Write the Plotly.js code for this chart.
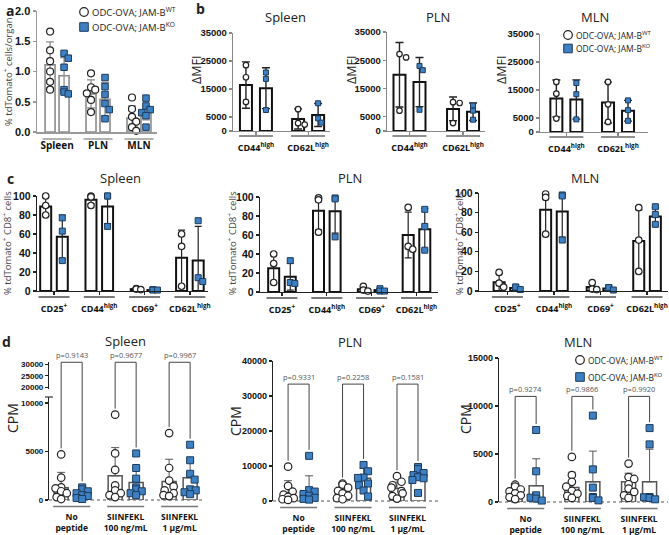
<!DOCTYPE html>
<html>
<head>
<meta charset="utf-8">
<script src="https://cdn.plot.ly/plotly-3.0.1.min.js"></script>
<style>
body { margin: 0; background: #fff; }
#fig { width: 669px; height: 535px; }
</style>
</head>
<body>
<div id="fig"></div>
<script>
// ---------- data ----------
// a: % tdTomato+ cells / organ
var organsA = ['Spleen', 'PLN', 'MLN'];
var aMeanWT = [1.11, 0.63, 0.23];
var aSdWT = [0.38, 0.23, 0.20];
var aMeanKO = [0.93, 0.54, 0.32];
var aSdKO = [0.30, 0.28, 0.12];
var aPtsWT = [[1.66, 1.35, 1.17, 1.00, 0.83, 0.70], [0.97, 0.74, 0.70, 0.64, 0.53, 0.33], [0.57, 0.38, 0.25, 0.17, 0.08, 0.02]];
var aPtsKO = [[1.30, 1.22, 1.07, 0.70, 0.66, 0.63], [0.90, 0.75, 0.62, 0.47, 0.37, 0.22], [0.56, 0.43, 0.37, 0.32, 0.27, 0.08]];

// b: delta MFI
var markersB = ['CD44<sup>high</sup>', 'CD62L<sup>high</sup>'];
var bSpleenMeanWT = [16400, 4300], bSpleenSdWT = [8300, 3600];
var bSpleenMeanKO = [15300, 5700], bSpleenSdKO = [7300, 4100];
var bSpleenPtsWT = [[23500, 19200, 10400], [7800, 2800, 2300]];
var bSpleenPtsKO = [[20900, 18600, 7500], [9900, 4500, 3000]];
var bPlnMeanWT = [19900, 7800], bPlnSdWT = [11400, 4200];
var bPlnMeanKO = [17300, 6800], bPlnSdKO = [8700, 3100];
var bPlnPtsWT = [[27200, 26000, 7200], [10200, 9900, 2800]];
var bPlnPtsKO = [[23000, 21500, 7500], [9000, 7200, 4000]];
var bMlnMeanWT = [11950, 10500], bMlnSdWT = [6600, 7300];
var bMlnMeanKO = [11600, 7600], bMlnSdKO = [7000, 3700];
var bMlnPtsWT = [[17900, 13700, 4800], [17900, 9900, 3600]];
var bMlnPtsKO = [[17500, 13500, 4500], [11300, 7800, 4000]];

// c: % tdTomato+ CD8+ cells
var markersC = ['CD25<sup>+</sup>', 'CD44<sup>high</sup>', 'CD69<sup>+</sup>', 'CD62L<sup>high</sup>'];
var cSpleenMeanWT = [89, 96, 2, 35], cSpleenSdWT = [10, 4, 0.6, 29];
var cSpleenMeanKO = [57, 89, 1, 32], cSpleenSdKO = [23, 18, 0.5, 36];
var cSpleenPtsWT = [[100, 90, 80], [100, 99, 90], [2.5, 2, 1.5], [60, 47, 5]];
var cSpleenPtsKO = [[77, 63, 32], [100, 100, 68], [1.5, 1, 1], [74, 14, 10]];
var cPlnMeanWT = [25, 85.5, 3, 60], cPlnSdWT = [16, 20, 2.5, 24];
var cPlnMeanKO = [16, 85, 2, 66], cPlnSdKO = [14, 23, 1.5, 22];
var cPlnPtsWT = [[40, 30, 10], [99, 97, 63], [6, 2, 1], [89, 48, 45]];
var cPlnPtsKO = [[33, 10, 9], [99, 98, 58], [3.5, 1, 1], [87, 69, 44]];
var cMlnMeanWT = [9, 83, 4, 51], cMlnSdWT = [9, 24, 4, 32];
var cMlnMeanKO = [3, 81, 2.5, 76], cMlnSdKO = [1.5, 26, 1.5, 9];
var cMlnPtsWT = [[19, 8, 4], [99, 95.5, 58], [8.5, 2, 1.5], [85, 52, 20]];
var cMlnPtsKO = [[4, 4, 1.5], [98, 97, 52], [3.5, 3.5, 1], [86, 78, 68]];

// d: proliferation, CPM
var stimD = ['No<br>peptide', 'SIINFEKL<br>100 ng/mL', 'SIINFEKL<br>1 µg/mL'];
var dSpleenMeanWT = [1270, 2500, 1900], dSpleenSdWT = [1580, 2900, 2300];
var dSpleenMeanKO = [700, 1800, 2300], dSpleenSdKO = [450, 1500, 1700];
var dSpleenPtsWT = [[4700, 2300, 1300, 1200, 900, 700, 300, 100], [8800, 4800, 3100, 1500, 1000, 700, 500, 300], [6900, 3300, 2000, 1400, 1000, 700, 500, 400]];
var dSpleenPtsKO = [[1300, 1100, 900, 700, 500, 400, 200, 100], [4800, 3300, 2200, 1300, 1100, 900, 700, 500], [5700, 4100, 2700, 2100, 1100, 1000, 800, 600]];
var dSpleenP = ['p=0.9143', 'p=0.9677', 'p=0.9967'];
var dPlnMeanWT = [2200, 2700, 3600], dPlnSdWT = [3600, 1500, 1800];
var dPlnMeanKO = [2900, 6500, 7100], dPlnSdKO = [4300, 2800, 2500];
var dPlnPtsWT = [[9800, 4300, 2700, 1800, 1200, 800, 500, 300], [5000, 4700, 3800, 2900, 2200, 1500, 800, 500], [7100, 5500, 4500, 3800, 2800, 2200, 1400, 700]];
var dPlnPtsKO = [[12900, 3100, 2700, 2000, 1500, 900, 600, 400], [10300, 8500, 6700, 6600, 5000, 4500, 3000, 1300], [9700, 9100, 8000, 7400, 6800, 6500, 6000, 2300]];
var dPlnP = ['p=0.9331', 'p=0.2258', 'p=0.1581'];
var dMlnMeanWT = [870, 1500, 2100], dMlnSdWT = [900, 1600, 900];
var dMlnMeanKO = [1700, 2100, 2100], dMlnSdKO = [2800, 3200, 3400];
var dMlnPtsWT = [[1800, 1600, 1300, 1100, 900, 700, 500, 300], [4700, 2800, 2100, 1600, 1150, 870, 630, 420], [4000, 2600, 2400, 1850, 1400, 1050, 700, 420]];
var dMlnPtsKO = [[7500, 3200, 700, 450, 350, 150], [9000, 3400, 1500, 520, 420, 170], [7700, 6000, 520, 500, 420, 280]];
var dMlnP = ['p=0.9274', 'p=0.9866', 'p=0.9920'];

var legendWT = 'ODC-OVA; JAM-B<sup>WT</sup>';
var legendKO = 'ODC-OVA; JAM-B<sup>KO</sup>';

// ---------- helpers ----------
var W = 669, H = 535;
var FONT = '"Open Sans", "Noto Sans", sans-serif';
var TFONT = '"Liberation Sans Narrow", "Liberation Sans", Arial, sans-serif';
var BLUE = '#3e80c4';

function fx(px) { return px / W; }
function fy(px) { return 1 - px / H; }
function sfx(n) { return n === 1 ? '' : String(n); }

var traces = [], shapes = [], annotations = [];
var layout = {
  width: W, height: H,
  margin: {l: 0, r: 0, t: 0, b: 0},
  paper_bgcolor: '#fff', plot_bgcolor: 'rgba(0,0,0,0)',
  showlegend: false, barmode: 'overlay',
  font: {family: FONT, color: '#222'},
  shapes: shapes, annotations: annotations
};

// simple beeswarm, offsets in px
function swarm(vals, pxPerVal, size, maxOff) {
  var placed = [], out = [];
  var step = size * 0.6;
  vals.forEach(function (v) {
    var y = v * pxPerVal, chosen = null;
    for (var k = 0; k <= 12 && chosen === null; k++) {
      var cands = k === 0 ? [0] : [k * step, -k * step];
      for (var c = 0; c < cands.length; c++) {
        var cx = cands[c];
        if (Math.abs(cx) > maxOff) continue;
        var ok = placed.every(function (p) {
          var dx = p.x - cx, dy = p.y - y;
          return dx * dx + dy * dy >= size * size * 0.8;
        });
        if (ok) { chosen = cx; break; }
      }
    }
    if (chosen === null) chosen = ((placed.length % 3) - 1) * maxOff * 0.7;
    placed.push({x: chosen, y: y});
    out.push(chosen);
  });
  return out;
}

function markerFor(si, size) {
  if (si === 0) return {symbol: 'circle', size: size, color: '#fff', line: {color: '#222', width: 1.2}};
  return {symbol: 'square', size: size - 0.5, color: BLUE, line: {color: '#1d3b5c', width: 1}};
}

function text(x, y, t, size, opts) {
  annotations.push(Object.assign({
    xref: 'paper', yref: 'paper', x: fx(x), y: fy(y), text: t, showarrow: false,
    xanchor: 'center', yanchor: 'middle', font: {family: FONT, size: size, color: '#222'}
  }, opts || {}));
}

function legendAt(x, y, gap, size) {
  var r = 4.3;
  shapes.push({type: 'circle', xref: 'paper', yref: 'paper', x0: fx(x - r), x1: fx(x + r), y0: fy(y + r), y1: fy(y - r),
    fillcolor: '#fff', line: {color: '#222', width: 1.2}});
  shapes.push({type: 'rect', xref: 'paper', yref: 'paper', x0: fx(x - r), x1: fx(x + r), y0: fy(y + gap + r), y1: fy(y + gap - r),
    fillcolor: BLUE, line: {color: '#1d3b5c', width: 1}});
  text(x + 6, y, legendWT, size, {xanchor: 'left'});
  text(x + 6, y + gap, legendKO, size, {xanchor: 'left'});
}

// p: {n, xPx, yPx, xr, yr, yticks, groups, series, st}
function panel(p) {
  var st = p.st;
  var xk = 'x' + sfx(p.n), yk = 'y' + sfx(p.n);
  var wPx = p.xPx[1] - p.xPx[0], hPx = p.yPx[1] - p.yPx[0];
  var uPerPx = (p.xr[1] - p.xr[0]) / wPx;
  var pxPerVal = hPx / (p.yr[1] - p.yr[0]);
  var idx = p.groups.map(function (_, i) { return i; });

  layout['xaxis' + sfx(p.n)] = {
    domain: [fx(p.xPx[0]), fx(p.xPx[1])], range: p.xr, anchor: yk,
    showgrid: false, zeroline: false, fixedrange: true,
    showline: st.xline, linecolor: st.axColor, linewidth: st.axW,
    tickvals: idx, ticktext: p.groups,
    ticks: st.xticks, ticklen: 3, tickcolor: st.axColor, tickwidth: st.axW,
    ticklabelstandoff: st.xstand,
    tickfont: {family: FONT, size: st.xtf, weight: 'bold', color: '#111'}
  };
  layout['yaxis' + sfx(p.n)] = {
    domain: [fy(p.yPx[1]), fy(p.yPx[0])], range: p.yr, anchor: xk,
    showgrid: false, zeroline: false, fixedrange: true,
    showline: true, linecolor: st.axColor, linewidth: st.axW,
    ticks: 'outside', ticklen: 3, tickcolor: st.axColor, tickwidth: st.axW,
    tickvals: p.yticks, tickformat: p.yfmt || 'd',
    tickfont: {family: TFONT, size: st.ytf, weight: 'bold', color: '#111'}
  };

  p.series.forEach(function (s, si) {
    var off = (si === 0 ? -1 : 1) * st.offPx * uPerPx;
    var err = st.upOnly
      ? {type: 'data', symmetric: false, array: s.sd, arrayminus: s.sd.map(function () { return 0; })}
      : {type: 'data', array: s.sd};
    err.color = st.errColor; err.thickness = st.errW; err.width = st.cap; err.visible = true;
    traces.push({
      type: 'bar', x: idx.map(function (i) { return i + off; }), y: s.mean,
      width: st.barPx * uPerPx, xaxis: xk, yaxis: yk,
      marker: {color: '#fff', line: {color: st.barLine, width: st.barLW}},
      error_y: err, hoverinfo: 'skip'
    });
    var xs = [], ys = [];
    s.pts.forEach(function (grp, i) {
      var offs = swarm(grp, pxPerVal, st.mk, st.barPx / 2 + 1);
      grp.forEach(function (v, k) { xs.push(i + off + offs[k] * uPerPx); ys.push(v); });
    });
    traces.push({
      type: 'scatter', mode: 'markers', x: xs, y: ys, xaxis: xk, yaxis: yk,
      cliponaxis: false, marker: markerFor(si, st.mk), hoverinfo: 'skip'
    });
  });

  idx.forEach(function (i) {
    shapes.push({type: 'line', xref: xk, yref: 'paper',
      x0: i - st.ulPx * uPerPx, x1: i + st.ulPx * uPerPx, y0: fy(st.ulY + p.yPx[1]), y1: fy(st.ulY + p.yPx[1]),
      line: {color: st.ulColor, width: st.ulW}});
  });

  if (p.pvals) {
    var bk = p.bracketAxis || yk;
    var bPxPerVal = p.bracketPxPerVal || pxPerVal;
    var pad = 6 / bPxPerVal;
    idx.forEach(function (i) {
      var xl = i - st.offPx * uPerPx, xr = i + st.offPx * uPerPx;
      var lo = Math.max.apply(null, p.series[0].pts[i]) + pad;
      var hi = Math.max.apply(null, p.series[1].pts[i]) + pad;
      traces.push({type: 'scatter', mode: 'lines', x: [xl, xl, xr, xr], y: [lo, p.bracketTop, p.bracketTop, hi],
        xaxis: xk, yaxis: bk, line: {color: '#444', width: 1}, hoverinfo: 'skip'});
      annotations.push({xref: xk, yref: bk, x: i, y: p.bracketTop, yanchor: 'bottom', yshift: 0,
        text: p.pvals[i], showarrow: false, font: {family: FONT, size: 7.5, color: '#555'}});
    });
  }
}

function S(mean, sd, pts) { return {mean: mean, sd: sd, pts: pts}; }

// ---------- styles ----------
var stA = {offPx: 7, barPx: 10, mk: 7, ulPx: 14.5, ulY: 7, ulColor: '#999', ulW: 1.5,
  axColor: '#999', axW: 1.5, xline: true, xticks: '', xstand: 3, xtf: 10, ytf: 11,
  barLine: '#8c8c8c', barLW: 1.6, errColor: '#8c8c8c', errW: 1.3, cap: 4};
var stB = {offPx: 10, barPx: 12, mk: 5.5, ulPx: 17, ulY: 5, ulColor: '#222', ulW: 1.2,
  axColor: '#888', axW: 1.2, xline: true, xticks: 'outside', xstand: 5, xtf: 9, ytf: 9.5,
  barLine: '#111', barLW: 2, errColor: '#222', errW: 1.4, cap: 4};
var stC = {offPx: 8.3, barPx: 11, mk: 6.5, ulPx: 15.5, ulY: 6, ulColor: '#222', ulW: 1.2,
  axColor: '#222', axW: 1.3, xline: true, xticks: 'outside', xstand: 6, xtf: 9, ytf: 10.5,
  barLine: '#111', barLW: 2, errColor: '#222', errW: 1.2, cap: 3.5};
var stD = {offPx: 10.5, barPx: 14, mk: 7.5, ulPx: 18.5, ulY: 6.5, ulColor: '#777', ulW: 1.3,
  axColor: '#222', axW: 1.1, xline: false, xticks: '', xstand: 10, xtf: 8.5, ytf: 8,
  barLine: '#555', barLW: 1.5, errColor: '#555', errW: 1, cap: 4, upOnly: true};

// ---------- panel a ----------
panel({n: 1, xPx: [37, 157], yPx: [11, 132], xr: [-0.49, 2.44], yr: [0, 2], yticks: [0, 0.5, 1, 1.5, 2], yfmt: '.1f',
  groups: organsA, series: [S(aMeanWT, aSdWT, aPtsWT), S(aMeanKO, aSdKO, aPtsKO)], st: stA});

// ---------- panel b ----------
var bTicks = [0, 5000, 15000, 25000, 35000];
panel({n: 2, xPx: [233, 330], yPx: [33, 131], xr: [-0.44, 1.42], yr: [0, 35000], yticks: bTicks, groups: markersB,
  series: [S(bSpleenMeanWT, bSpleenSdWT, bSpleenPtsWT), S(bSpleenMeanKO, bSpleenSdKO, bSpleenPtsKO)], st: stB});
panel({n: 3, xPx: [387, 485], yPx: [32, 131], xr: [-0.42, 1.41], yr: [0, 35000], yticks: bTicks, groups: markersB,
  series: [S(bPlnMeanWT, bPlnSdWT, bPlnPtsWT), S(bPlnMeanKO, bPlnSdKO, bPlnPtsKO)], st: stB});
panel({n: 4, xPx: [540, 648], yPx: [34, 132], xr: [-0.51, 1.58], yr: [0, 35000], yticks: bTicks, groups: markersB,
  series: [S(bMlnMeanWT, bMlnSdWT, bMlnPtsWT), S(bMlnMeanKO, bMlnSdKO, bMlnPtsKO)], st: stB});

// ---------- panel c ----------
var cTicks = [0, 20, 40, 60, 80, 100];
panel({n: 5, xPx: [37, 208], yPx: [196, 291], xr: [-0.375, 3.4], yr: [0, 100], yticks: cTicks, groups: markersC,
  series: [S(cSpleenMeanWT, cSpleenSdWT, cSpleenPtsWT), S(cSpleenMeanKO, cSpleenSdKO, cSpleenPtsKO)], st: stC});
panel({n: 6, xPx: [260, 438], yPx: [197, 292], xr: [-0.49, 3.48], yr: [0, 100], yticks: cTicks, groups: markersC,
  series: [S(cPlnMeanWT, cPlnSdWT, cPlnPtsWT), S(cPlnMeanKO, cPlnSdKO, cPlnPtsKO)], st: stC});
panel({n: 7, xPx: [479, 668], yPx: [193, 291], xr: [-0.61, 3.45], yr: [0, 100], yticks: cTicks, groups: markersC,
  series: [S(cMlnMeanWT, cMlnSdWT, cMlnPtsWT), S(cMlnMeanKO, cMlnSdKO, cMlnPtsKO)], st: stC});

// ---------- panel d ----------
// spleen: broken axis -> lower (y8), upper (y9), overlay for brackets (y10)
var lowPx = [397, 500], lowRange = [0, 10620];
var ovPx = [352, 500];
var ovTop = lowRange[1] * (ovPx[1] - ovPx[0]) / (lowPx[1] - lowPx[0]);
panel({n: 8, xPx: [49, 205], yPx: lowPx, xr: [-0.42, 2.47], yr: lowRange, yticks: [0, 5000, 10000], groups: stimD,
  series: [S(dSpleenMeanWT, dSpleenSdWT, dSpleenPtsWT), S(dSpleenMeanKO, dSpleenSdKO, dSpleenPtsKO)], st: stD,
  pvals: dSpleenP, bracketAxis: 'y10', bracketTop: 14200, bracketPxPerVal: (lowPx[1] - lowPx[0]) / lowRange[1]});
layout.yaxis9 = Object.assign({}, layout.yaxis8, {domain: [fy(389), fy(362)], range: [19260, 31000], tickvals: [20000, 25000, 30000]});
layout.yaxis10 = {domain: [fy(ovPx[1]), fy(ovPx[0])], range: [0, ovTop], anchor: 'x8', visible: false, fixedrange: true};
traces.push({type: 'scatter', mode: 'markers', x: [null], y: [null], xaxis: 'x8', yaxis: 'y9', hoverinfo: 'skip'});
shapes.push({type: 'line', xref: 'x8 domain', yref: 'y8 domain', x0: -4 / 156, x1: 4 / 156, y0: 1, y1: 1, line: {color: '#222', width: 1.1}});
shapes.push({type: 'line', xref: 'x8 domain', yref: 'y8 domain', x0: 0, x1: 1, y0: 0, y1: 0, layer: 'below', line: {color: '#555', width: 1, dash: 'dot'}});

panel({n: 11, xPx: [273, 438], yPx: [361, 501], xr: [-0.47, 2.56], yr: [0, 40000], yticks: [0, 10000, 20000, 30000, 40000], groups: stimD,
  series: [S(dPlnMeanWT, dPlnSdWT, dPlnPtsWT), S(dPlnMeanKO, dPlnSdKO, dPlnPtsKO)], st: Object.assign({}, stD, {ytf: 9}),
  pvals: dPlnP, bracketTop: 33400});
shapes.push({type: 'line', xref: 'x11 domain', yref: 'y11 domain', x0: 0, x1: 1, y0: 0, y1: 0, layer: 'below', line: {color: '#555', width: 1, dash: 'dot'}});

panel({n: 12, xPx: [499, 668], yPx: [358, 502], xr: [-0.47, 2.51], yr: [0, 15000], yticks: [0, 5000, 10000, 15000], groups: stimD,
  series: [S(dMlnMeanWT, dMlnSdWT, dMlnPtsWT), S(dMlnMeanKO, dMlnSdKO, dMlnPtsKO)], st: Object.assign({}, stD, {ytf: 9}),
  pvals: dMlnP, bracketTop: 11000});
shapes.push({type: 'line', xref: 'x12 domain', yref: 'y12 domain', x0: 0, x1: 1, y0: 0, y1: 0, layer: 'below', line: {color: '#555', width: 1, dash: 'dot'}});

// ---------- text ----------
var bold = function (t) { return '<b>' + t + '</b>'; };
text(10, 10, bold('a'), 14);
text(200, 9, bold('b'), 14);
text(10, 178, bold('c'), 14);
text(6, 341, bold('d'), 14);

text(285, 17, 'Spleen', 13); text(438, 17, 'PLN', 13); text(595, 17, 'MLN', 13);
text(120, 178, 'Spleen', 13); text(350, 178, 'PLN', 13); text(585, 178, 'MLN', 13);
text(125, 341, 'Spleen', 13); text(350, 342, 'PLN', 13); text(578, 342, 'MLN', 13);

var rot = {textangle: -90};
text(8, 72, '% tdTomato<sup>+</sup> cells/organ', 9.5, Object.assign({font: {family: FONT, size: 9.5, color: '#444'}}, rot));
text(196, 70, 'ΔMFI', 12.5, rot); text(351, 70, 'ΔMFI', 12.5, rot); text(501, 70, 'ΔMFI', 12.5, rot);
[7, 232, 459].forEach(function (x) {
  text(x, 243, '% tdTomato<sup>+</sup> CD8<sup>+</sup> cells', 9.5, Object.assign({font: {family: FONT, size: 9.5, color: '#444'}}, rot));
});
text(12, 418, 'CPM', 14, rot); text(235, 421, 'CPM', 14, rot); text(465, 419, 'CPM', 14, rot);

legendAt(84, 12, 15, 9.5);
legendAt(568, 35, 13.5, 8.5);
legendAt(580, 360, 17, 8.5);

Plotly.newPlot('fig', traces, layout, {displayModeBar: false, staticPlot: true});
</script>
</body>
</html>
